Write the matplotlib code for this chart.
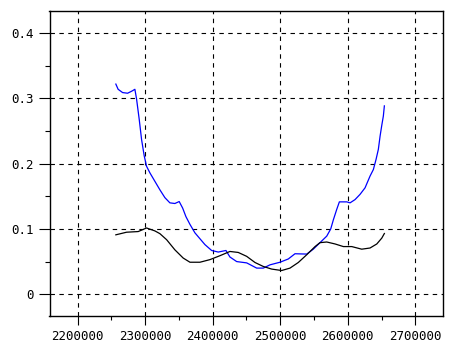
import matplotlib
matplotlib.use("Agg")
import matplotlib.pyplot as plt
from matplotlib.ticker import MultipleLocator, FixedLocator

blue_x = [2256700, 2260100, 2266700, 2274100, 2280000, 2284900, 2287400, 2291300,
          2294800, 2298700, 2302200, 2307100, 2314500, 2321900, 2329300, 2336700,
          2344100, 2350500, 2355600, 2360400, 2366400, 2373800, 2381200, 2388600,
          2398500, 2408300, 2419700, 2425600, 2435600, 2450400, 2465200, 2475000,
          2484900, 2499700, 2512000, 2521900, 2539300, 2549000, 2558900, 2568900,
          2574800, 2578700, 2583700, 2587600, 2598500, 2603400, 2610800, 2618200,
          2625600, 2633000, 2637900, 2641900, 2645300, 2647900, 2650400, 2652700,
          2654200]
blue_y = [0.322, 0.314, 0.309, 0.308, 0.311, 0.314, 0.299, 0.268,
          0.237, 0.212, 0.196, 0.186, 0.173, 0.160, 0.148, 0.140,
          0.139, 0.142, 0.132, 0.119, 0.107, 0.094, 0.085, 0.076,
          0.067, 0.0646, 0.067, 0.057, 0.050, 0.048, 0.040, 0.040,
          0.045, 0.049, 0.054, 0.062, 0.0615, 0.069, 0.079, 0.089,
          0.100, 0.114, 0.130, 0.1415, 0.1415, 0.140, 0.145, 0.153,
          0.163, 0.181, 0.191, 0.2066, 0.222, 0.2425, 0.259, 0.273,
          0.2886]

black_x = [2256700, 2272600, 2289800, 2302200, 2314500, 2321900, 2331900, 2344100,
           2356400, 2366400, 2381200, 2396000, 2410800, 2425600, 2437900, 2450400,
           2462700, 2475000, 2487400, 2502200, 2514500, 2526800, 2539300, 2551600,
           2558900, 2568900, 2581200, 2593500, 2605900, 2620700, 2633000, 2643000,
           2650400, 2654200]
black_y = [0.091, 0.095, 0.096, 0.1015, 0.097, 0.0928, 0.0835, 0.068,
           0.0554, 0.049, 0.049, 0.053, 0.059, 0.0655, 0.064, 0.058,
           0.0486, 0.0425, 0.0385, 0.0363, 0.040, 0.0486, 0.0605, 0.073,
           0.079, 0.080, 0.077, 0.073, 0.073, 0.069, 0.0708, 0.077,
           0.086, 0.093]

x_ticks = [2200000, 2300000, 2400000, 2500000, 2600000, 2700000]
x_tick_labels = ["2200000", "2300000", "2400000", "2500000", "2600000", "2700000"]
y_ticks = [0, 0.1, 0.2, 0.3, 0.4]
y_tick_labels = ["0", "0.1", "0.2", "0.3", "0.4"]

plt.rcParams['font.family'] = ['DejaVu Sans Mono']

fig = plt.figure(figsize=(4.59, 3.51), dpi=100)
ax = fig.add_axes([49.5/459, 1-316/351, (443-49.5)/459, (316-11)/351])

ax.plot(blue_x, blue_y, color='#0000ff', lw=0.9)
ax.plot(black_x, black_y, color='black', lw=0.9)

ax.set_xlim(2158500, 2741000)
ax.set_ylim(-0.0334, 0.434)

ax.xaxis.set_major_locator(FixedLocator(x_ticks))
ax.set_xticklabels(x_tick_labels)
ax.yaxis.set_major_locator(FixedLocator(y_ticks))
ax.set_yticklabels(y_tick_labels)
ax.xaxis.set_minor_locator(MultipleLocator(50000))
ax.yaxis.set_minor_locator(MultipleLocator(0.05))

ax.grid(True, which='major', color='black', linestyle=(0, (4, 4)), lw=0.8)
ax.tick_params(axis='x', which='major', length=6.5, width=0.8, pad=3.5, labelsize=9)
ax.tick_params(axis='x', which='minor', length=3, width=0.8)
ax.tick_params(axis='y', which='major', length=8, width=0.8, pad=3.5, labelsize=9)
ax.tick_params(axis='y', which='minor', length=3.6, width=0.8)
for s in ax.spines.values():
    s.set_linewidth(1.0)

fig.savefig("out.png", dpi=100)
